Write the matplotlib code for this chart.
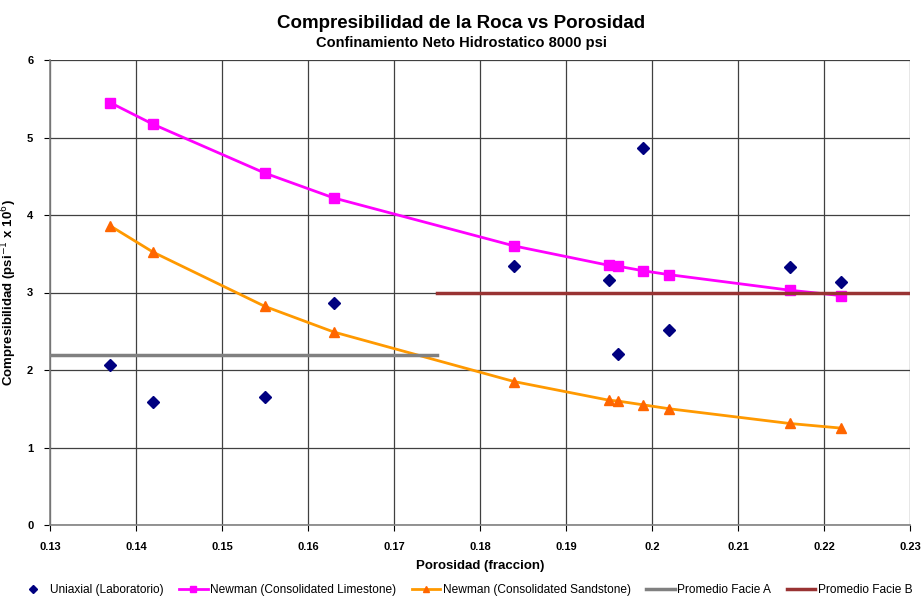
import matplotlib.pyplot as plt
import matplotlib.lines as mlines

plt.rcParams['font.family'] = ['Liberation Sans', 'DejaVu Sans']

# Datos
porosidad = [0.137, 0.142, 0.155, 0.163, 0.184, 0.195, 0.196, 0.199, 0.202, 0.216, 0.222]
uniaxial = [2.06, 1.59, 1.65, 2.86, 3.34, 3.16, 2.21, 4.87, 2.51, 3.33, 3.14]
newman_caliza = [5.45, 5.17, 4.54, 4.22, 3.60, 3.35, 3.34, 3.28, 3.23, 3.03, 2.96]
newman_arenisca = [3.86, 3.52, 2.82, 2.49, 1.85, 1.61, 1.60, 1.55, 1.50, 1.31, 1.25]

facie_a_x = [0.13, 0.175]
facie_a_y = [2.2, 2.2]
facie_b_x = [0.175, 0.23]
facie_b_y = [3.0, 3.0]

x_ticks = [0.13, 0.14, 0.15, 0.16, 0.17, 0.18, 0.19, 0.2, 0.21, 0.22, 0.23]
x_labels = ['0.13', '0.14', '0.15', '0.16', '0.17', '0.18', '0.19', '0.2', '0.21', '0.22', '0.23']
y_ticks = [0, 1, 2, 3, 4, 5, 6]

fig = plt.figure(figsize=(9.22, 6.03), dpi=100)
ax = fig.add_axes([50 / 922, 78 / 603, 860 / 922, 465 / 603])

ax.plot(porosidad, uniaxial, linestyle='none', marker='D', color='#000080', markersize=6.5)
ax.plot(porosidad, newman_caliza, color='#FF00FF', lw=2, marker='s', markersize=7)
ax.plot(porosidad, newman_arenisca, color='#FF9900', lw=2, marker='^', markersize=7,
        markerfacecolor='#FF6600', markeredgecolor='#FF6600')
ax.plot(facie_a_x, facie_a_y, color='#808080', lw=2.5)
ax.plot(facie_b_x, facie_b_y, color='#993333', lw=2.5)

ax.set_xlim(0.13, 0.23)
ax.set_ylim(0, 6)
ax.set_xticks(x_ticks)
ax.set_xticklabels(x_labels)
ax.set_yticks(y_ticks)
ax.grid(True, color='#404040', lw=0.9)
ax.set_axisbelow(True)
for s in ['top', 'right']:
    ax.spines[s].set_visible(False)
for s in ['left', 'bottom']:
    ax.spines[s].set_color('#808080')
    ax.spines[s].set_linewidth(1.2)
ax.tick_params(colors='black', labelsize=8, length=4, width=0.8)
for lab in ax.get_xticklabels() + ax.get_yticklabels():
    lab.set_fontweight('bold')
ax.tick_params(axis='x', pad=8)
ax.tick_params(axis='y', pad=8)

ax.set_xlabel('Porosidad (fraccion)', fontsize=9.5, fontweight='bold', labelpad=6)
ax.set_ylabel('Compresibilidad (psi$^{-1}$ x 10$^{6}$)', fontsize=9.5, fontweight='bold', labelpad=6)

fig.text(0.5, 0.975, 'Compresibilidad de la Roca vs Porosidad', ha='center', va='top',
         fontsize=13.5, fontweight='bold')
fig.text(0.5, 0.94, 'Confinamiento Neto Hidrostatico 8000 psi', ha='center', va='top',
         fontsize=10.5, fontweight='bold')

handles = [
    mlines.Line2D([], [], linestyle='none', marker='D', color='#000080', markersize=4),
    mlines.Line2D([], [], color='#FF00FF', lw=2, marker='s', markersize=5),
    mlines.Line2D([], [], color='#FF9900', lw=2, marker='^', markersize=5,
                  markerfacecolor='#FF6600', markeredgecolor='#FF6600'),
    mlines.Line2D([], [], color='#808080', lw=2.5),
    mlines.Line2D([], [], color='#993333', lw=2.5),
]
labels = ['Uniaxial (Laboratorio)', 'Newman (Consolidated Limestone)',
          'Newman (Consolidated Sandstone)', 'Promedio Facie A', 'Promedio Facie B']
fig.legend(handles, labels, loc='center', bbox_to_anchor=(0.505, 0.022), ncol=5,
           frameon=False, fontsize=8.6, handlelength=2.4, handletextpad=0.2, columnspacing=1.3)

fig.savefig('out.png', dpi=100)
